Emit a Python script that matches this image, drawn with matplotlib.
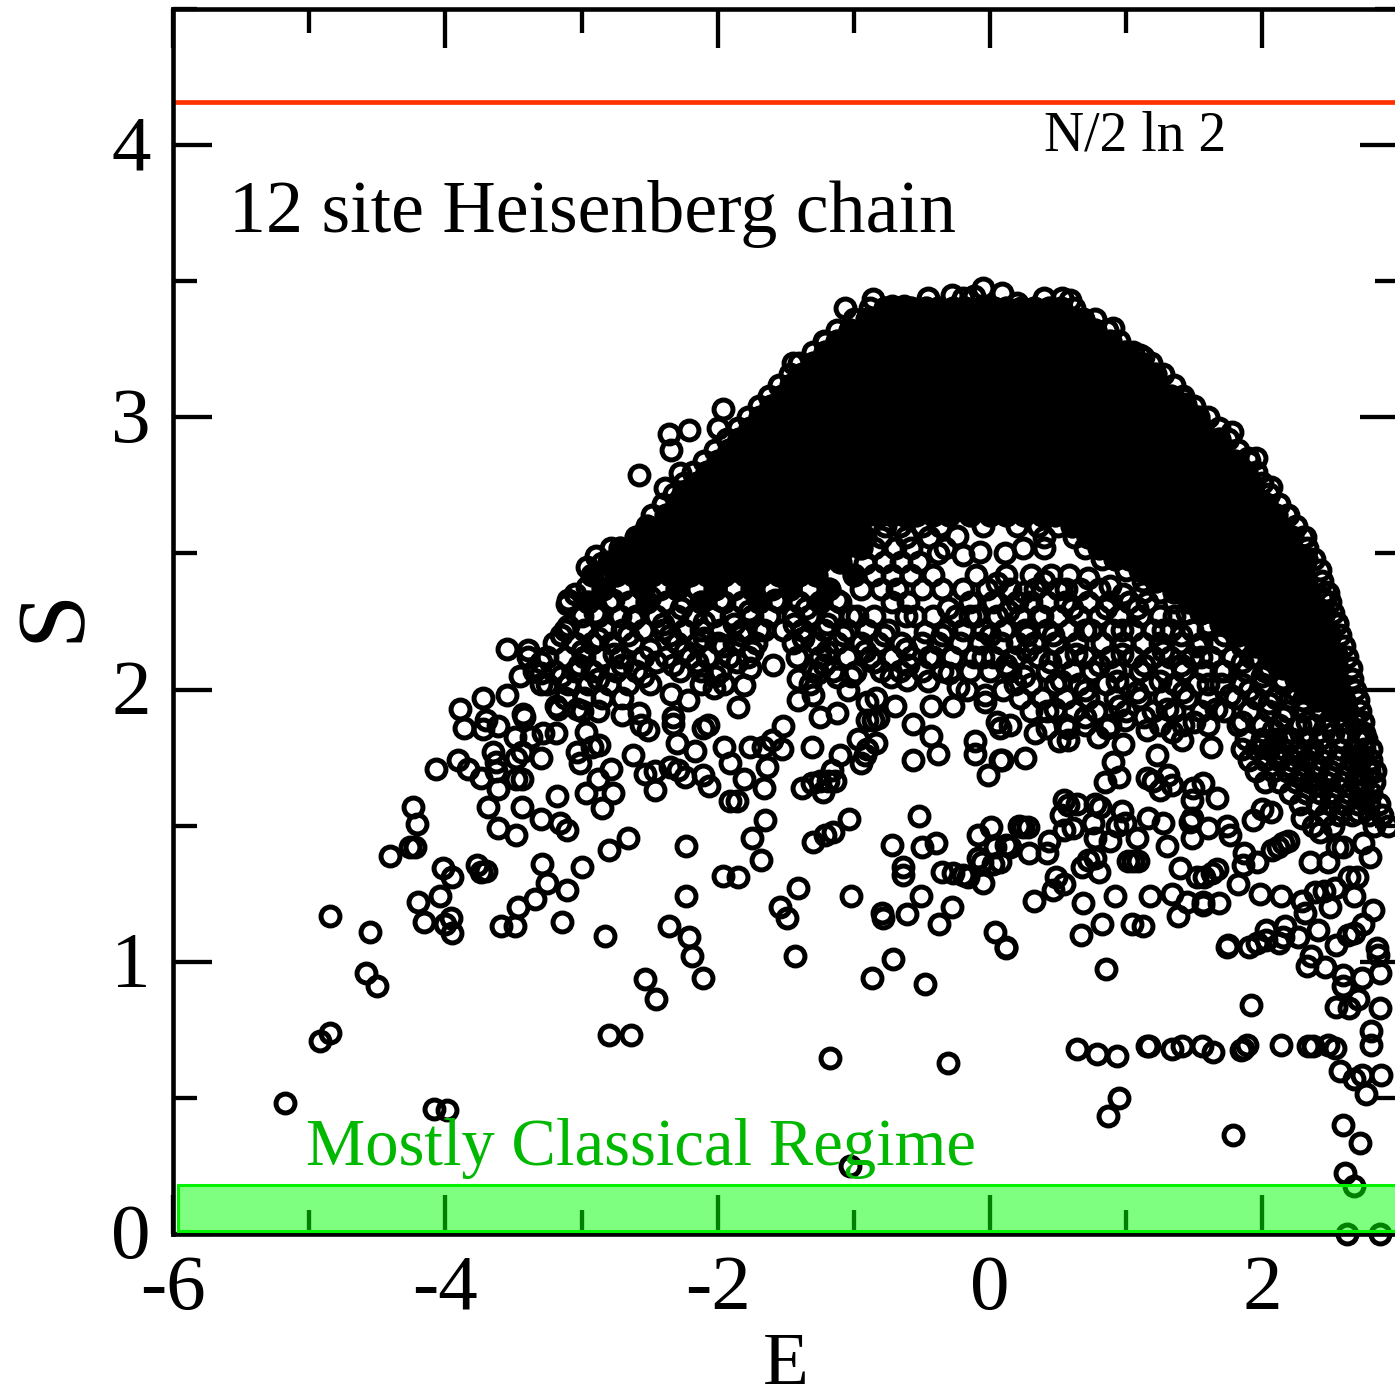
import matplotlib
matplotlib.use("Agg")
import matplotlib.pyplot as plt
from matplotlib.patches import Rectangle
from matplotlib.ticker import MultipleLocator
from matplotlib.transforms import ScaledTranslation

plt.rcParams['font.family'] = ['Liberation Serif', 'DejaVu Serif']
plt.rcParams['axes.unicode_minus'] = False

x_major = [-6, -4, -2, 0, 2]
y_major = [0, 1, 2, 3, 4]
ground_entropy = 4.16
title_text = "12 site Heisenberg chain"
limit_text = "N/2 ln 2"
regime_text = "Mostly Classical Regime"

left_points = [
(-3.55,2.15),(-3.39,2.145),(-3.39,2.12),(-3.45,2.05),(-3.30,2.02),(-3.30,2.06),(-3.55,1.98),(-3.72,1.97),(-3.89,1.93),
(-3.86,1.86),(-3.72,1.855),(-3.70,1.89),(-3.61,1.865),(-3.43,1.91),(-3.42,1.90),(-3.49,1.825),(-3.37,1.825),(-3.91,1.74),
(-4.07,1.71),(-3.83,1.71),(-3.74,1.675),(-3.65,1.77),(-3.63,1.735),(-3.63,1.70),(-3.48,1.75),(-3.44,1.77),(-3.61,1.635),
(-3.48,1.67),(-3.44,1.67),(-3.69,1.57),(-3.44,1.57),(-3.18,1.61),(-3.30,1.75),(-3.19,1.94),(-3.17,1.93),(-3.28,1.84),
(-3.19,1.84),(-3.03,1.77),(-3.01,1.73),(-2.97,1.62),(-2.97,1.845),(-3.03,1.93),(-3.30,1.525),(-3.16,1.51),(-3.11,1.485),
(-3.61,1.49),(-3.48,1.465),(-4.24,1.57),(-4.21,1.505),(-4.41,1.39),(-4.26,1.42),(-4.22,1.42),(-4.02,1.345),(-3.95,1.31),
(-3.77,1.355),(-3.74,1.33),(-3.70,1.335),(-4.20,1.22),(-4.04,1.24),(-4.16,1.145),(-4.0,1.14),(-3.96,1.16),(-3.95,1.105),
(-3.29,1.36),(-3.00,1.35),(-3.25,1.29),(-3.11,1.265),(-3.34,1.23),(-3.47,1.20),(-3.59,1.13),(-3.49,1.13),(-3.14,1.145),
(-4.85,1.17),(-4.55,1.11),(-4.58,0.96),(-4.50,0.91),(-4.85,0.74),(-4.92,0.71),(-5.18,0.48),(-4.08,0.46),(-3.99,0.455),
]

middle_points = [
(-1.59,2.09),(-1.85,1.935),(-1.76,2.08),(-1.81,2.015),(-2.03,2.005),(-2.34,1.985),(-2.45,2.10),(-2.22,1.96),(-2.70,1.905),
(-2.58,1.915),(-2.51,1.85),(-2.56,1.87),(-2.33,1.90),(-2.33,1.875),(-2.07,1.87),(-2.11,1.86),(-2.30,1.805),(-2.17,1.775),
(-2.62,1.76),(-2.87,1.795),(-2.92,1.79),(-2.78,1.71),(-2.88,1.67),(-2.77,1.62),(-2.85,1.565),(-2.53,1.69),(-2.46,1.70),
(-2.46,1.63),(-2.35,1.715),(-2.29,1.705),(-2.24,1.68),(-2.11,1.685),(-2.06,1.645),(-1.95,1.79),(-1.91,1.73),(-1.81,1.67),
(-1.91,1.59),(-1.86,1.59),(-1.76,1.79),(-1.64,1.715),(-1.66,1.64),(-1.52,1.865),(-1.60,1.815),(-1.67,1.79),(-1.53,1.78),
(-1.31,1.79),(-1.65,1.52),(-1.75,1.455),(-1.68,1.375),(-2.66,1.455),(-2.80,1.41),(-2.23,1.425),(-2.23,1.24),(-1.96,1.315),
(-1.85,1.31),(-2.83,1.095),(-2.36,1.13),(-2.21,1.09),(-2.19,1.02),(-2.11,0.94),(-2.53,0.935),(-2.45,0.865),(-2.80,0.73),
(-2.64,0.73),(-1.175,0.645),(-0.31,0.63),(-1.03,0.25),(-1.41,1.27),(-1.54,1.20),(-1.49,1.16),(-1.43,1.02),(-1.02,1.24),
(-1.30,1.44),(-1.21,1.465),(-1.15,1.475),(-1.035,1.525),(-0.72,1.43),(-0.52,1.535),(-0.50,1.42),(-0.40,1.435),(-0.64,1.35),
(-0.64,1.32),(-0.35,1.33),(-0.27,1.325),(-0.20,1.32),(-0.16,1.31),(-0.05,1.29),(-0.09,1.38),(-0.06,1.365),(0.02,1.36),
(-0.09,1.465),(0.01,1.495),(0.04,1.42),(0.12,1.43),(-0.51,1.24),(-0.61,1.175),(-0.79,1.18),(-0.785,1.16),(-0.28,1.20),
(-0.375,1.14),(0.04,1.11),(0.12,1.05),(-0.71,1.01),(-0.87,0.94),(-0.48,0.92),(-1.38,1.64),(-1.31,1.655),(-1.23,1.625),
(-1.25,1.665),(-1.19,1.665),(-1.14,1.665),(-1.16,1.705),(-1.10,1.76),(-0.95,1.73),(-0.92,1.76),(-0.90,1.78),(-0.97,1.82),
(-0.84,1.805),(-0.565,1.74),(-0.38,1.765),(-0.43,1.83),(-0.11,1.81),(-0.11,1.765),(0.07,1.74),(-0.015,1.685),(-0.565,1.875),
(0.05,1.88),(0.07,1.86),(-1.41,2.04),(-1.41,1.96),(-1.30,1.98),(-1.26,2.06),(-1.32,2.02),(-1.25,1.90),(-1.12,1.915),
(-1.12,2.045),(-0.99,2.065),(-1.04,2.0),(-0.90,1.955),(-0.90,1.89),(-0.86,1.89),(-0.82,1.895),(-0.84,1.97),(-0.70,1.94),
(-0.73,2.045),(-0.61,2.035),(-0.455,2.03),(-0.43,1.94),(-0.27,1.94),(-0.235,2.01),(-0.17,2.0),(-0.04,1.98),(-0.04,1.955),(0.095,2.0),
]

right_points = [
(0.26,1.75),(0.09,1.74),(0.33,1.84),(0.42,1.86),(0.51,1.81),(0.57,1.815),(0.57,1.86),(0.79,1.825),(0.86,1.86),(0.98,1.80),
(0.90,1.735),(0.845,1.66),(0.95,1.68),(1.15,1.675),(1.20,1.665),(1.23,1.76),(1.31,1.685),(1.25,1.63),(1.34,1.65),(1.15,1.85),
(0.99,1.89),(1.34,1.845),(1.41,1.815),(1.62,1.79),(1.49,1.64),(1.565,1.655),(1.48,1.595),(1.67,1.60),(1.48,1.53),(1.47,1.515),
(1.60,1.49),(1.74,1.50),(1.76,1.465),(1.48,1.455),(1.865,1.40),(1.86,1.355),(1.96,1.365),(1.82,1.285),(1.93,1.52),(2.0,1.56),
(2.06,1.55),(2.07,1.41),(2.115,1.42),(2.15,1.435),(2.19,1.445),(2.35,1.365),(2.48,1.365),(2.29,1.53),(2.37,1.50),(2.42,1.475),
(2.55,1.42),(2.59,1.42),(2.74,1.435),(2.79,1.385),(2.695,1.31),(2.64,1.31),(1.98,1.25),(2.14,1.24),(2.29,1.225),(2.39,1.255),
(2.45,1.26),(2.53,1.27),(2.50,1.20),(2.67,1.24),(2.81,1.19),(2.74,1.14),(2.67,1.105),(2.63,1.10),(2.54,1.06),(2.41,1.115),
(2.31,1.18),(2.26,1.09),(2.17,1.13),(2.15,1.09),(2.12,1.07),(2.03,1.115),(2.03,1.08),(1.96,1.07),(1.90,1.055),(1.75,1.06),
(1.74,1.055),(2.36,1.02),(2.33,0.985),(2.46,0.98),(2.84,1.05),(2.85,1.025),(2.865,0.96),(2.73,0.94),(2.59,0.95),(2.59,0.91),
(2.70,0.865),(2.54,0.835),(2.64,0.83),(2.865,0.83),(1.92,0.84),(2.80,0.745),(2.80,0.695),(0.85,0.975),(0.67,1.10),(0.82,1.14),
(1.04,1.14),(1.12,1.13),(0.12,1.055),(0.32,1.225),(0.46,1.265),(0.485,1.31),(0.545,1.285),(0.68,1.215),(0.92,1.24),(1.175,1.24),
(1.34,1.25),(1.45,1.22),(1.38,1.17),(1.565,1.22),(1.565,1.21),(1.68,1.215),(1.395,1.345),(1.52,1.31),(1.57,1.31),(1.63,1.325),
(1.67,1.34),(0.675,1.35),(0.72,1.375),(0.77,1.38),(0.80,1.33),(1.01,1.37),(1.05,1.37),(1.09,1.37),(0.54,1.595),(0.57,1.575),
(0.64,1.58),(0.52,1.54),(0.77,1.58),(0.81,1.57),(0.97,1.555),(0.76,1.51),(0.54,1.485),(0.61,1.49),(0.93,1.50),(0.99,1.51),
(0.77,1.455),(0.88,1.445),(1.08,1.455),(1.16,1.53),(1.27,1.51),(1.30,1.425),(0.24,1.495),(0.21,1.50),(0.28,1.495),(0.15,1.42),
(0.29,1.40),(0.42,1.40),(0.43,1.445),(0.07,1.365),
]

bottom_points = [
(0.64,0.68),(0.785,0.66),(0.93,0.655),(1.15,0.69),(1.165,0.69),(1.34,0.68),(1.41,0.69),(1.56,0.69),(1.64,0.67),(1.84,0.675),
(1.86,0.68),(1.885,0.695),(2.14,0.695),(2.335,0.69),(2.37,0.69),(2.48,0.695),(2.53,0.685),(2.57,0.60),(2.67,0.57),(2.73,0.585),
(2.87,0.585),(2.76,0.515),(0.95,0.50),(0.865,0.435),(1.785,0.365),(2.59,0.40),(2.72,0.335),(2.61,0.225),(2.67,0.175),(2.62,0.0),(2.865,0.0),
]

rim_points = [
(-0.05,3.475),(0.09,3.455),(0.40,3.44),(0.53,3.44),(0.59,3.43),(0.90,3.33),(1.10,3.23),(1.12,3.22),(1.42,3.07),(1.43,3.05),
(1.78,2.945),(1.895,2.85),(1.95,2.85),(2.06,2.745),(2.19,2.64),(2.31,2.56),(2.48,2.355),(2.44,2.335),(2.55,2.245),
(-2.58,2.79),(-2.36,2.94),(-2.34,2.88),(-2.21,2.955),(-1.96,3.03),(-2.0,2.96),(-1.45,3.20),(-1.21,3.275),(-1.065,3.40),
(-0.86,3.435),(-0.455,3.44),(-0.28,3.45),(-2.78,2.52),(-2.89,2.49),(-2.96,2.45),(-2.85,2.465),(-2.96,2.375),(-3.10,2.33),
(-3.11,2.315),(-3.10,2.235),(-2.39,2.74),(-2.28,2.795),(-0.72,3.41),(-0.63,3.41),(-0.2,3.44),(-0.12,3.445),(0.2,3.42),
(-0.92,2.465),(-0.48,2.21),(-0.31,2.30),(-0.24,2.565),(-0.2,2.495),(-0.38,2.50),(-0.07,2.505),(0.11,2.50),(0.24,2.52),
]

infill_points = [
(-3.05,2.35),(-2.9,2.28),(-2.77,2.33),(-2.62,2.26),(-2.5,2.34),(-2.4,2.24),(-2.27,2.3),(-2.1,2.25),(-1.98,2.33),(-1.88,2.24),
(-1.77,2.29),(-1.66,2.22),(-1.58,2.33),(-1.44,2.24),(-1.35,2.3),(-1.2,2.24),(-1.12,2.33),(-0.98,2.27),
(-3.15,2.2),(-3.0,2.14),(-2.88,2.19),(-2.76,2.13),(-2.66,2.2),(-2.5,2.15),(-2.35,2.2),(-2.24,2.14),(-2.1,2.19),(-1.96,2.16),
(-1.83,2.2),(-1.75,2.14),(-1.37,2.19),(-1.2,2.14),(-1.08,2.2),(-0.92,2.14),(-0.78,2.2),(-0.62,2.15),
(-3.3,2.1),(-3.15,2.05),(-3.02,2.09),(-2.88,2.04),(-2.7,2.09),(-2.55,2.05),(-2.33,2.09),(-2.15,2.1),(-2.02,2.05),(-1.86,2.1),
(-1.22,2.09),(-1.02,2.05),(-0.85,2.1),(-0.6,2.09),(-0.45,2.12),(-0.3,2.06),
(-0.55,2.27),(-0.35,2.2),(-0.15,2.27),(0.0,2.2),(0.13,2.29),(0.27,2.2),(0.38,2.27),(0.46,2.2),(0.6,2.3),(0.7,2.22),(0.85,2.3),
(0.97,2.22),(1.08,2.3),(1.27,2.22),(1.4,2.2),(1.52,2.16),
(0.05,2.39),(0.25,2.36),(0.4,2.4),(0.56,2.37),(0.72,2.41),(0.88,2.38),(0.98,2.35),(1.12,2.36),
(-0.05,2.12),(0.12,2.09),(0.27,2.14),(0.44,2.1),(0.63,2.13),(0.8,2.09),(0.97,2.13),(1.13,2.09),(1.27,2.14),(1.4,2.09),(1.55,2.12),
(1.7,2.07),(1.85,2.1),(2.0,2.05),
(0.25,2.05),(0.52,2.03),(0.7,2.0),(0.93,2.03),(1.08,1.99),(1.25,2.03),(1.42,1.99),(1.6,2.02),(1.76,1.98),(1.9,2.0),(2.05,1.95),(2.15,1.9),
(0.48,1.93),(0.7,1.9),(0.95,1.94),(1.13,1.9),(1.3,1.93),(1.5,1.88),(1.66,1.93),(1.85,1.88),(2.08,1.85),(2.2,1.82),(2.33,1.88),
(2.0,1.8),(2.1,1.76),(2.2,1.72),(2.3,1.68),(2.4,1.65),(2.5,1.62),(2.6,1.58),(2.7,1.55),(2.15,1.82),(2.27,1.76),(2.38,1.72),(2.5,1.68),
]

core_rows = [
(3.40,[-0.88,-0.77,-0.68,-0.58,-0.47,-0.38,-0.27,-0.18,-0.07,0.03,0.12,0.23,0.32,0.43,0.52,0.62]),
(3.36,[-1.0,-0.9,-0.81,-0.7,-0.6,-0.51,-0.41,-0.3,-0.21,-0.11,0.0,0.09,0.19,0.3,0.39,0.49,0.58,0.68,0.77]),
(3.32,[-1.12,-1.03,-0.92,-0.83,-0.73,-0.62,-0.53,-0.42,-0.33,-0.23,-0.12,-0.03,0.08,0.17,0.27,0.38,0.47,0.58,0.67,0.77,0.86]),
(3.28,[-1.22,-1.12,-1.02,-0.92,-0.81,-0.72,-0.62,-0.51,-0.42,-0.32,-0.21,-0.12,-0.02,0.09,0.18,0.28,0.39,0.48,0.58,0.69,0.78,0.88,0.95]),
(3.24,[-1.30,-1.21,-1.11,-1.0,-0.91,-0.81,-0.7,-0.61,-0.51,-0.4,-0.31,-0.21,-0.1,-0.01,0.09,0.2,0.29,0.39,0.5,0.59,0.69,0.8,0.89,0.99,1.05]),
(3.20,[-1.40,-1.3,-1.2,-1.1,-0.99,-0.9,-0.8,-0.69,-0.6,-0.5,-0.39,-0.3,-0.2,-0.09,0.0,0.1,0.21,0.3,0.4,0.51,0.6,0.7,0.81,0.9,1.0,1.1,1.18]),
(3.16,[-1.47,-1.38,-1.29,-1.19,-1.08,-0.99,-0.89,-0.78,-0.69,-0.59,-0.48,-0.39,-0.29,-0.18,-0.09,0.01,0.12,0.21,0.31,0.42,0.51,0.61,0.72,0.81,0.91,1.02,1.11,1.21,1.27]),
(3.12,[-1.55,-1.46,-1.37,-1.28,-1.17,-1.08,-0.98,-0.87,-0.78,-0.68,-0.57,-0.48,-0.38,-0.27,-0.18,-0.08,0.03,0.12,0.22,0.33,0.42,0.52,0.63,0.72,0.82,0.93,1.02,1.12,1.23,1.35]),
(3.08,[-1.62,-1.53,-1.45,-1.36,-1.26,-1.17,-1.07,-0.96,-0.87,-0.77,-0.66,-0.57,-0.47,-0.36,-0.27,-0.17,-0.06,0.03,0.13,0.24,0.33,0.43,0.54,0.63,0.73,0.84,0.93,1.03,1.14,1.23,1.33,1.42]),
(3.04,[-1.70,-1.61,-1.52,-1.43,-1.35,-1.25,-1.16,-1.05,-0.96,-0.86,-0.75,-0.66,-0.56,-0.45,-0.36,-0.26,-0.15,-0.06,0.04,0.15,0.24,0.34,0.45,0.54,0.64,0.75,0.84,0.94,1.05,1.14,1.24,1.35,1.43,1.50]),
(3.00,[-1.78,-1.69,-1.6,-1.51,-1.42,-1.33,-1.24,-1.14,-1.05,-0.95,-0.84,-0.75,-0.65,-0.54,-0.45,-0.35,-0.24,-0.15,-0.05,0.06,0.15,0.25,0.36,0.45,0.55,0.66,0.75,0.85,0.96,1.05,1.15,1.26,1.35,1.45,1.53,1.60]),
(2.96,[-1.85,-1.76,-1.67,-1.58,-1.49,-1.4,-1.31,-1.22,-1.13,-1.04,-0.93,-0.84,-0.74,-0.63,-0.54,-0.44,-0.33,-0.24,-0.14,-0.03,0.06,0.16,0.27,0.36,0.46,0.57,0.66,0.76,0.87,0.96,1.06,1.17,1.26,1.36,1.47,1.56,1.68]),
(2.92,[-1.93,-1.84,-1.75,-1.66,-1.57,-1.48,-1.39,-1.3,-1.21,-1.12,-1.02,-0.93,-0.83,-0.72,-0.63,-0.53,-0.42,-0.33,-0.23,-0.12,-0.03,0.07,0.18,0.27,0.37,0.48,0.57,0.67,0.78,0.87,0.97,1.08,1.17,1.27,1.38,1.47,1.57,1.68,1.75]),
(2.88,[-2.02,-1.92,-1.82,-1.73,-1.64,-1.55,-1.46,-1.37,-1.28,-1.19,-1.1,-1.01,-0.92,-0.81,-0.72,-0.62,-0.51,-0.42,-0.32,-0.21,-0.12,-0.02,0.09,0.18,0.28,0.39,0.48,0.58,0.69,0.78,0.88,0.99,1.08,1.18,1.29,1.38,1.48,1.59,1.68,1.82]),
(2.84,[-2.10,-2.0,-1.9,-1.81,-1.72,-1.63,-1.54,-1.45,-1.36,-1.27,-1.18,-1.09,-1.0,-0.9,-0.81,-0.71,-0.6,-0.51,-0.41,-0.3,-0.21,-0.11,0.0,0.09,0.19,0.3,0.39,0.49,0.6,0.69,0.79,0.9,0.99,1.09,1.2,1.29,1.39,1.5,1.59,1.69,1.8,1.90]),
(2.80,[-2.18,-2.08,-1.98,-1.88,-1.79,-1.7,-1.61,-1.52,-1.43,-1.34,-1.25,-1.16,-1.07,-0.98,-0.89,-0.8,-0.69,-0.6,-0.5,-0.39,-0.3,-0.2,-0.09,0.0,0.1,0.21,0.3,0.4,0.51,0.6,0.7,0.81,0.9,1.0,1.11,1.2,1.3,1.41,1.5,1.6,1.71,1.8,1.88,1.95]),
(2.76,[-2.25,-2.15,-2.05,-1.95,-1.86,-1.77,-1.68,-1.59,-1.5,-1.41,-1.32,-1.23,-1.14,-1.05,-0.96,-0.87,-0.78,-0.69,-0.59,-0.48,-0.39,-0.29,-0.18,-0.09,0.01,0.12,0.21,0.31,0.42,0.51,0.61,0.72,0.81,0.91,1.02,1.11,1.21,1.32,1.41,1.51,1.62,1.71,1.81,1.92,2.0]),
(2.72,[-2.32,-2.22,-2.12,-2.02,-1.93,-1.84,-1.75,-1.66,-1.57,-1.48,-1.39,-1.3,-1.21,-1.12,-1.03,-0.94,-0.85,-0.76,-0.67,-0.57,-0.48,-0.38,-0.27,-0.18,-0.08,0.03,0.12,0.22,0.33,0.42,0.52,0.63,0.72,0.82,0.93,1.02,1.12,1.23,1.32,1.42,1.53,1.62,1.72,1.83,1.92,2.05]),
(2.68,[-2.40,-2.3,-2.2,-2.1,-2.0,-1.91,-1.82,-1.73,-1.64,-1.55,-1.46,-1.37,-1.28,-1.19,-1.1,-1.01,-0.92,-0.83,-0.74,-0.65,-0.56,-0.47,-0.36,-0.27,-0.17,-0.06,0.03,0.13,0.24,0.33,0.43,0.54,0.63,0.73,0.84,0.93,1.03,1.14,1.23,1.33,1.44,1.53,1.63,1.74,1.83,1.93,2.03,2.12]),
(2.64,[-2.48,-2.38,-2.27,-2.17,-2.07,-1.98,-1.89,-1.8,-1.71,-1.62,-1.53,-1.44,-1.35,-1.26,-1.17,-1.08,-0.99,-0.9,-0.81,-0.72,-0.63,-0.54,-0.42,-0.3,-0.15,0.0,0.12,0.25,0.38,0.48,0.6,0.7,0.8,0.9,1.0,1.1,1.2,1.3,1.4,1.5,1.6,1.7,1.8,1.9,2.0,2.1,2.18]),
]

wing_rows = [
(2.60,[-2.52,-2.4,-2.3,-2.18,-2.07,-1.95,-1.85,-1.72,-1.6,-1.5,-1.38,-1.27,-1.15,-1.02,-0.9,-0.77,-0.66,-0.5,-0.37,-0.05,0.2,0.35]),
(2.56,[-2.6,-2.48,-2.36,-2.25,-2.12,-2.0,-1.9,-1.78,-1.66,-1.55,-1.42,-1.3,-1.18,-1.05,-0.92,-0.8,-0.62,-0.45,0.4]),
(2.52,[-2.72,-2.6,-2.48,-2.36,-2.22,-2.1,-1.97,-1.85,-1.72,-1.6,-1.47,-1.33,-1.2,-1.07,-0.95,-0.85,-0.7,-0.58,-0.33,0.4]),
(2.47,[-2.8,-2.66,-2.54,-2.4,-2.28,-2.15,-2.03,-1.9,-1.78,-1.64,-1.5,-1.38,-1.25,-1.1,-0.78,-0.65,-0.52]),
(2.42,[-2.92,-2.75,-2.62,-2.48,-2.35,-2.2,-2.08,-1.95,-1.8,-1.68,-1.55,-1.4,-1.28,-1.0,-0.85,-0.72,-0.58,-0.42,-0.1,0.12,0.3,0.45,0.58]),
(2.37,[-2.84,-2.7,-2.55,-2.42,-2.3,-2.15,-2.02,-1.88,-1.75,-1.6,-1.47,-1.33,-1.18,-0.95,-0.8,-0.68,-0.5,-0.35,-0.2,-0.02,0.15,0.33,0.5,0.66,0.8]),
(2.32,[-2.95,-2.8,-2.65,-2.52,-2.38,-2.25,-2.12,-1.95,-1.82,-1.7,-1.55,-1.4,-1.25,-1.1,-0.72,-0.6,-0.15,0.02,0.2,0.3,0.42,0.55,0.72,0.88,1.02,1.15]),
(2.27,[-3.0,-2.88,-2.72,-2.6,-2.45,-2.3,-2.18,-2.03,-1.9,-1.75,-1.62,-1.45,-1.33,-1.17,-1.02,-0.85,-0.62,-0.42,-0.25,-0.1,0.05,0.22,0.36,0.5,0.65,0.8,0.95,1.1,1.25,1.35]),
(2.22,[-3.12,-2.98,-2.83,-2.7,-2.55,-2.4,-2.25,-2.12,-1.98,-1.82,-1.7,-1.52,-1.38,-1.22,-1.05,-0.9,-0.75,-0.32,-0.2,-0.05,0.1,0.26,0.42,0.58,0.74,0.9,1.05,1.2,1.33,1.48,1.6]),
(2.17,[-3.2,-3.05,-2.92,-2.78,-2.62,-2.3,-2.15,-2.0,-1.88,-1.72,-1.45,-1.28,-1.12,-0.95,-0.82,-0.65,-0.5,-0.38,-0.22,-0.07,0.08,0.2,0.32,0.48,0.64,0.82,0.98,1.12,1.25,1.4,1.55,1.68]),
(2.12,[-3.25,-3.12,-2.98,-2.85,-2.72,-2.55,-2.38,-2.2,-2.08,-1.92,-1.78,-1.42,-1.25,-1.05,-0.88,-0.72,-0.58,-0.42,-0.28,-0.12,0.02,0.18,0.35,0.54,0.7,0.88,1.05,1.2,1.32,1.48,1.62,1.78,1.92]),
(2.07,[-3.35,-3.2,-3.05,-2.92,-2.75,-2.6,-2.28,-2.12,-1.98,-1.3,-1.15,-0.8,-0.66,-0.5,-0.35,-0.15,0.0,0.15,0.42,0.6,0.75,0.92,1.1,1.28,1.42,1.58,1.72,1.88,2.02]),
(2.02,[-3.25,-3.1,-2.95,-2.8,-2.66,-2.5,-2.12,-1.95,0.18,0.3,0.48,0.65,0.85,1.0,1.18,1.35,1.52,1.7,1.85,2.0,2.15]),
(1.97,[-3.12,-2.98,-2.85,-2.7,0.22,0.38,0.55,0.72,0.92,1.1,1.28,1.45,1.6,1.8,1.95,2.1,2.2]),
(1.92,[-3.0,-2.88,0.3,0.42,0.62,0.78,1.0,1.2,1.35,1.55,1.72,1.9,2.05,2.18,2.3]),
(1.87,[0.15,0.55,0.7,0.88,1.25,1.42,1.6,1.82,2.0,2.12,2.28,2.38]),
]

band_rows = [
(2.60,[0.5,0.6,0.7,0.8,0.9,1.0,1.1,1.2,1.3,1.4,1.5,1.6,1.7,1.8,1.9,2.0,2.1,2.25]),
(2.56,[0.62,0.72,0.82,0.92,1.02,1.12,1.22,1.32,1.42,1.52,1.62,1.72,1.82,1.92,2.02,2.12,2.22,2.3]),
(2.52,[0.7,0.8,0.9,1.0,1.1,1.2,1.3,1.4,1.5,1.6,1.7,1.8,1.9,2.0,2.1,2.2,2.33]),
(2.48,[0.82,0.92,1.02,1.12,1.22,1.32,1.42,1.52,1.62,1.72,1.82,1.92,2.02,2.12,2.22,2.32,2.38]),
(2.44,[1.0,1.1,1.2,1.3,1.4,1.5,1.6,1.7,1.8,1.9,2.0,2.1,2.2,2.3,2.42]),
(2.40,[1.12,1.22,1.32,1.42,1.52,1.62,1.72,1.82,1.92,2.02,2.12,2.22,2.32,2.44]),
(2.36,[1.25,1.35,1.45,1.55,1.65,1.75,1.85,1.95,2.05,2.15,2.25,2.35,2.47]),
(2.32,[1.35,1.46,1.56,1.66,1.76,1.86,1.96,2.06,2.16,2.26,2.36,2.5]),
(2.28,[1.45,1.55,1.65,1.75,1.85,1.95,2.05,2.15,2.25,2.35,2.45,2.52]),
(2.24,[1.6,1.7,1.8,1.9,2.0,2.1,2.2,2.3,2.4,2.55]),
(2.20,[1.72,1.82,1.92,2.02,2.12,2.22,2.32,2.42,2.5,2.57]),
(2.16,[1.85,1.95,2.05,2.15,2.25,2.35,2.45,2.6]),
(2.12,[1.95,2.05,2.15,2.25,2.35,2.45,2.55,2.62]),
(2.08,[2.05,2.15,2.25,2.35,2.45,2.55,2.65]),
(2.04,[2.15,2.25,2.35,2.45,2.55,2.66]),
(2.00,[2.25,2.35,2.45,2.55,2.68]),
(1.96,[2.3,2.4,2.5,2.6,2.7]),
(1.92,[2.42,2.52,2.62,2.72]),
(1.88,[2.48,2.58,2.68,2.74]),
(1.84,[2.52,2.62,2.72,2.75]),
(1.82,[1.88,2.0,2.1,2.22,2.32,2.42,2.58,2.7,2.76]),
(1.78,[1.85,1.95,2.05,2.15,2.27,2.37,2.47,2.57,2.67,2.75,2.8]),
(1.74,[1.9,2.02,2.12,2.22,2.32,2.44,2.55,2.65,2.72,2.8]),
(1.70,[1.95,2.08,2.18,2.3,2.4,2.5,2.62,2.7,2.78,2.83]),
(1.66,[2.02,2.12,2.25,2.35,2.47,2.58,2.68,2.75,2.82]),
(1.62,[2.2,2.32,2.42,2.52,2.64,2.72,2.8]),
(1.58,[2.28,2.4,2.5,2.6,2.7,2.78,2.86]),
(1.54,[2.46,2.56,2.66,2.78,2.88]),
(1.50,[2.52,2.82,2.92]),
]

E_values, S_values = [], []
for group in (left_points, middle_points, right_points, bottom_points, rim_points, infill_points):
    for e, s in group:
        E_values.append(e)
        S_values.append(s)
for rows in (core_rows, wing_rows, band_rows):
    for s, es in rows:
        for e in es:
            E_values.append(e)
            S_values.append(s)

# States so overplotted in the source that their rings merge into solid black.
E_merged, S_merged = [], []
for s, es in core_rows:
    for e in es[1:-1]:
        E_merged.append(e)
        S_merged.append(s)
for s, es in band_rows:
    if s >= 1.92:
        for e in es[1:-1]:
            E_merged.append(e)
            S_merged.append(s)
for s, es in wing_rows:
    for i, e in enumerate(es):
        if e < -0.9 and (s >= 2.42 or (s == 2.37 and i % 2 == 0) or (s == 2.32 and i % 3 == 0)):
            E_merged.append(e)
            S_merged.append(s)

W, H = 1395, 1394
fig = plt.figure(figsize=(W / 100, H / 100), dpi=100)
ax = fig.add_axes([173 / W, (H - 1234) / H, 1225.5 / W, 1225 / H])
ax.set_xlim(-6, 3)
ax.set_ylim(0, 4.5)

ax.plot(E_values, S_values, ls='none', marker='o', ms=13.6, mew=3.6, mfc='none', mec='black',
        clip_on=False, zorder=3)
ax.plot(E_merged, S_merged, ls='none', marker='o', ms=13.6, mew=3.6, mfc='black', mec='black',
        clip_on=False, zorder=3)
ax.axhline(ground_entropy, color='#ff3300', lw=3.4, zorder=4)
ax.add_patch(Rectangle((-5.96, 0.011), 9.2, 0.169, facecolor=(0, 1, 0, 0.5), edgecolor=(0, 0.95, 0, 1),
                       lw=2.2, zorder=6, clip_on=True))

ax.set_xticks(x_major)
ax.set_yticks(y_major)
ax.xaxis.set_minor_locator(MultipleLocator(1))
ax.yaxis.set_minor_locator(MultipleLocator(0.5))
ax.tick_params(which='major', direction='in', length=28, width=3.1, top=True, right=True,
               labelsize=57, pad=14.5)
ax.tick_params(which='minor', direction='in', length=17.5, width=3.1, top=True, right=True)
ax.tick_params(axis='y', which='major', pad=16)
for lab in ax.get_yticklabels():
    lab.set_transform(lab.get_transform() + ScaledTranslation(0, 3 / 100, fig.dpi_scale_trans))
for sp in ax.spines.values():
    sp.set_linewidth(3.3)
    sp.set_zorder(5)

ax.text(-5.59, 3.68, title_text, fontsize=53.2, color='black', va='baseline', ha='left', zorder=7)
ax.text(0.40, 3.98, limit_text, fontsize=40, color='black', va='baseline', ha='left', zorder=7)
ax.text(-5.02, 0.253, regime_text, fontsize=48, color='#00b800', va='baseline', ha='left', zorder=7)

fig.text(786 / W, 1 - 1384 / H, "E", fontsize=54, ha='center', va='baseline')
fig.text(55 / W, 1 - 615 / H, "S", fontsize=70, ha='center', va='center', rotation=90)

fig.savefig("out.png", dpi=100)
